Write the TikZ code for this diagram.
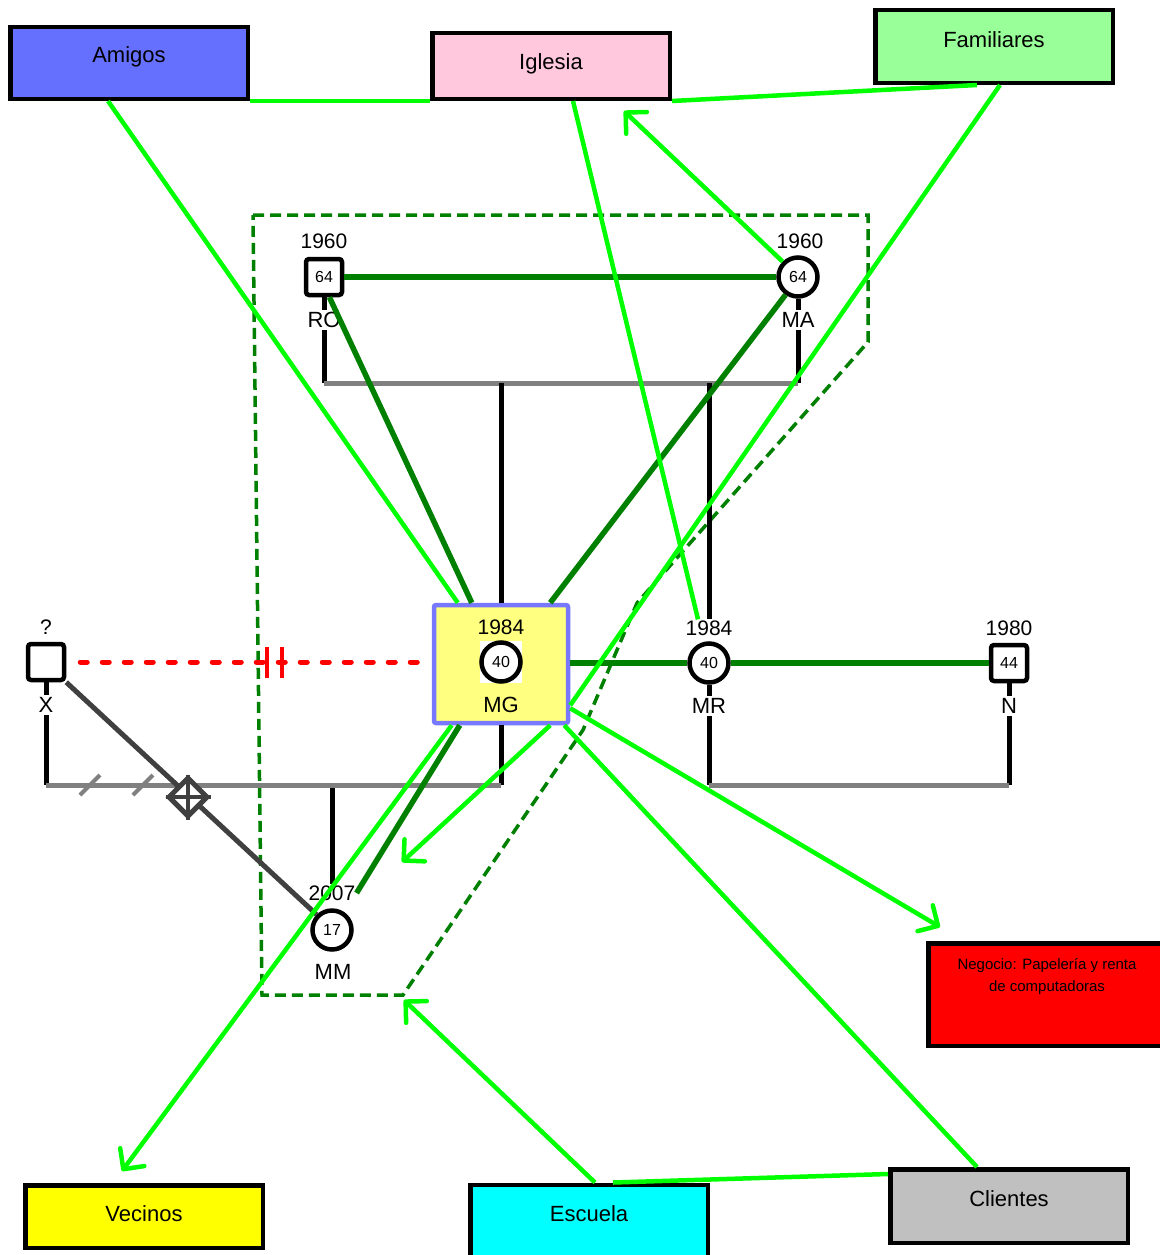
\documentclass[tikz,border=0pt]{standalone}
\usepackage{fontspec}
\setmainfont{Liberation Sans}
\usetikzlibrary{arrows.meta,shapes.geometric}
\definecolor{bgreen}{RGB}{0,255,0}
\definecolor{dgreen}{RGB}{0,128,0}
\definecolor{amigosc}{RGB}{102,112,255}
\definecolor{iglesiac}{RGB}{255,200,220}
\definecolor{famc}{RGB}{153,255,153}
\definecolor{vecc}{RGB}{255,255,0}
\definecolor{escc}{RGB}{0,255,255}
\definecolor{clic}{RGB}{192,192,192}
\definecolor{negc}{RGB}{255,0,0}
\definecolor{mgfill}{RGB}{255,255,128}
\definecolor{mgborder}{RGB}{120,120,255}
\definecolor{sibgray}{RGB}{128,128,128}
\definecolor{dgray}{RGB}{64,64,64}
\begin{document}
\begin{tikzpicture}[x=1pt,y=-1pt,
  bx/.style={draw=black, line width=4.5pt, inner sep=0pt, minimum width=237.5pt},
  bxt/.style={font=\fontsize{22}{24}\selectfont, inner sep=0pt, anchor=base},
  per/.style={draw=black, line width=4.5pt, fill=white, inner sep=0pt, font=\fontsize{16}{16}\selectfont},
  male/.style={per, rectangle, rounded corners=3pt, minimum size=36pt},
  female/.style={per, circle, minimum size=39pt},
  yr/.style={font=\fontsize{21}{21}\selectfont, inner sep=1pt},
  nm/.style={font=\fontsize{22}{22}\selectfont, fill=white, inner sep=2.5pt},
  kin/.style={line width=5pt, black},
  sib/.style={line width=5pt, sibgray},
  rel/.style={line width=4.5pt, bgreen},
  relarr/.style={rel, -{Straight Barb[length=15pt,width=30pt,round]}},
  closerel/.style={line width=5.5pt, dgreen},
  hhborder/.style={line width=3.5pt, dgreen, dash pattern=on 11pt off 6pt},
  conflict/.style={line width=5pt, red, line cap=round, dash pattern=on 7pt off 15pt},
  cutline/.style={line width=5pt, dgray},
  mgbox/.style={draw=mgborder, fill=mgfill, line width=4.5pt, rounded corners=2pt, minimum width=134pt, minimum height=118pt, inner sep=0pt}
]
\useasboundingbox (0,0) rectangle (1159,1255);

% household border
\draw[hhborder] (253,215) -- (868,215) -- (868,342) -- (637,603) -- (583,730) -- (403,995) -- (262,995) -- cycle;

% outer boxes
\node[bx, fill=amigosc, minimum height=71.5pt] (amigos) at (129,63) {};
\node[bx, fill=iglesiac, minimum height=65.5pt] (iglesia) at (551,66) {};
\node[bx, fill=famc, minimum height=72.5pt] (familiares) at (994,46.5) {};
\node[bx, fill=vecc, minimum height=62.5pt] (vecinos) at (144,1216.5) {};
\node[bx, fill=escc, minimum height=74.5pt] (escuela) at (589,1222) {};
\node[bx, fill=clic, minimum height=73.5pt] (clientes) at (1009,1206) {};
\node[bx, fill=negc, minimum height=102.5pt] (negocio) at (1047,994.5) {};

\node[bxt] (amigosT) at (129,63) {Amigos};
\node[bxt] (iglesiaT) at (551,70) {Iglesia};
\node[bxt] (familiaresT) at (994,48) {Familiares};
\node[bxt] (vecinosT) at (144,1221) {Vecinos};
\node[bxt] (escuelaT) at (589,1221) {Escuela};
\node[bxt] (clientesT) at (1009,1206) {Clientes};
\node[font=\fontsize{15}{22}\selectfont, align=center, inner sep=0pt] (negocioT) at (1047,977) {Negocio: Papelería y renta\\de computadoras};

% MG box
\node[mgbox] (MGbox) at (501,664) {};
\node[fill=white, minimum size=42pt, inner sep=0pt] (MGbg) at (501,662) {};

% persons
\node[male] (RO) at (324,277) {64};
\node[female] (MA) at (798,277) {64};
\node[male] (X) at (46,662) {};
\node[female] (MG) at (501,662) {40};
\node[female] (MR) at (709,663) {40};
\node[male] (N) at (1009,663) {44};
\node[female] (MM) at (332,930) {17};

% years
\node[yr] (ROy) at (324,241) {1960};
\node[yr] (MAy) at (800,241) {1960};
\node[yr] (Xy) at (46,627) {?};
\node[yr] (MGy) at (501,627) {1984};
\node[yr] (MRy) at (709,628) {1984};
\node[yr] (Ny) at (1009,628) {1980};
\node[yr] (MMy) at (332,893) {2007};

% names
\node[nm] (ROl) at (324,320) {RO};
\node[nm] (MAl) at (798,320) {MA};
\node[nm] (Xl) at (46,705) {X};
\node[nm, fill=none] (MGl) at (501,705) {MG};
\node[nm] (MRl) at (709,706) {MR};
\node[nm] (Nl) at (1009,706) {N};
\node[nm, fill=none] (MMl) at (333,972) {MM};

% family lines
\coordinate (sib1) at (501,383);
\coordinate (sib2) at (501,785);
\coordinate (sib3) at (709,785);
\draw[kin] (RO.south) -- (ROl.north);
\draw[kin] (ROl.south) -- (RO |- sib1);
\draw[kin] (MA.south) -- (MAl.north);
\draw[kin] (MAl.south) -- (MA |- sib1);
\draw[sib] (RO |- sib1) -- (MA |- sib1);
\draw[kin] (sib1) -- (MGbox.north);
\draw[kin] (MR |- sib1) -- (MRy.north);

\draw[kin] (X.south) -- (Xl.north);
\draw[kin] (Xl.south) -- (X |- sib2);
\draw[kin] (MGbox.south) -- (sib2);
\draw[kin] (MM |- sib2) -- (MMy.north);
\draw[sib] (X |- sib2) -- (sib2);
\draw[sib, line width=4pt] (80,795) -- (100,775);
\draw[sib, line width=4pt] (133,795) -- (153,775);

\draw[kin] (MR.south) -- (MRl.north);
\draw[kin] (MRl.south) -- (sib3);
\draw[kin] (N.south) -- (Nl.north);
\draw[kin] (Nl.south) -- (N |- sib3);
\draw[sib] (sib3) -- (N |- sib3);

% conflict X - MG
\draw[conflict, shorten <=14pt, shorten >=4pt] (X.east) -- (MGbox.west |- X);
\coordinate (cut) at (274,662);
\draw[red, line width=4pt] ([xshift=-7pt,yshift=15pt]cut) -- ([xshift=-7pt,yshift=-16pt]cut);
\draw[red, line width=4pt] ([xshift=8pt,yshift=15pt]cut) -- ([xshift=8pt,yshift=-16pt]cut);

% cut-off X - MM
\draw[cutline] (X.south east) -- (MM.135);
\node[diamond, draw=dgray, line width=5pt, fill=white, minimum width=40pt, minimum height=40pt, inner sep=0pt] (cutoff) at (188,797) {};
\draw[cutline, line width=4pt] (cutoff.north) -- (cutoff.south) (cutoff.west) -- (cutoff.east);

% close relations (dark green)
\draw[closerel] (RO.east) -- (MA.west);
\draw[closerel] (MGbox.east |- MR) -- (MR.west);
\draw[closerel] (MR.east) -- (N.west);
\draw[closerel] (RO.-75) -- ([xshift=40pt]MGbox.north west);
\draw[closerel] (MA.-125) -- ([xshift=-20pt]MGbox.north east);
\draw[closerel] ([xshift=28pt]MGbox.south west) -- (MMy.east);

% ecomap relations (bright green)
\coordinate (igTip) at (624,111);
\coordinate (mgTip) at (402,862);
\coordinate (negTip) at (940,927);
\coordinate (vecTip) at (122,1171);
\coordinate (escTip) at (404,1000);

\draw[rel] (amigos.south east) -- (iglesia.south west);
\draw[rel] (iglesia.south east) -- ([xshift=-17pt]familiares.south);
\draw[rel] ([xshift=-21pt]amigos.south) -- ([xshift=26pt]MGbox.north west);
\draw[rel] ([xshift=22pt]iglesia.south) -- ([xshift=-11pt]MRy.north);
\draw[rel] ([xshift=6pt]familiares.south) -- ([yshift=20pt]MGbox.south east);
\draw[relarr] (MA.135) -- (igTip);
\draw[relarr] ([xshift=-20pt]MGbox.south east) -- (mgTip);
\draw[relarr] ([yshift=17pt]MGbox.south east) -- (negTip);
\draw[rel] ([xshift=-6pt]MGbox.south east) -- ([xshift=-32pt]clientes.north);
\draw[relarr] ([xshift=6pt]escuela.north) -- (escTip);
\draw[rel] ([xshift=24pt]escuela.north) -- ([yshift=-7pt]clientes.north west);
\draw[relarr] ([xshift=20pt]MGbox.south west) -- (vecTip);
\end{tikzpicture}
\end{document}
